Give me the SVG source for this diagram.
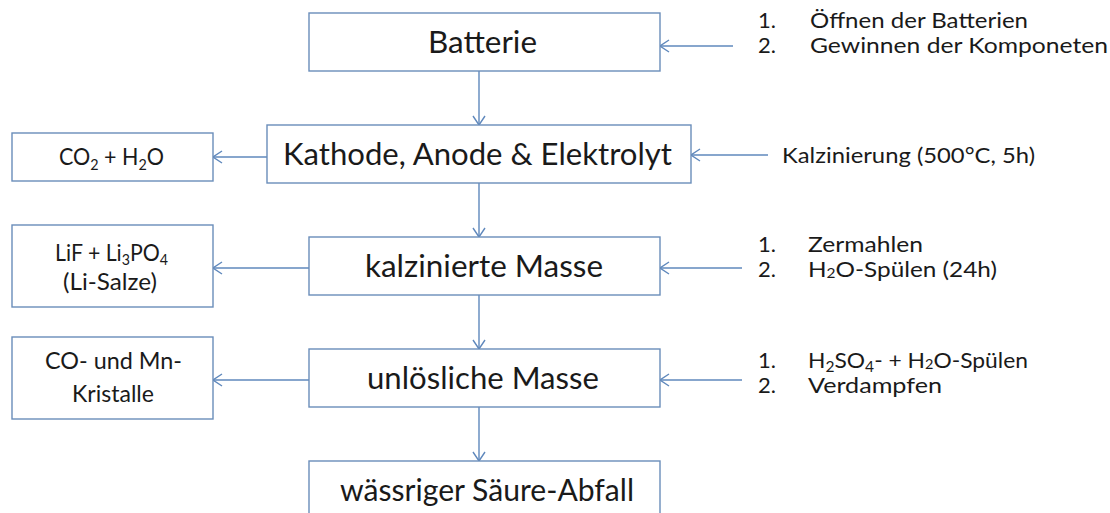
<svg xmlns="http://www.w3.org/2000/svg" width="1110" height="513" viewBox="0 0 1110 513">
  <style>
    .box { fill: #ffffff; stroke: #6A8DBA; stroke-width: 1.4; }
    .wire { fill: none; stroke: #5F88BC; stroke-width: 1.4; }
    .t { font-family: Lato, "Open Sans", "Liberation Sans", sans-serif; fill: #1a1a1a; }
    .big { font-size: 31px; }
    .mid { font-size: 24px; }
    .side { font-size: 22px; }
  </style>
  <defs>
    <marker id="head" viewBox="0 -7 12 14" markerWidth="12" markerHeight="14" refX="11" refY="0" orient="auto" markerUnits="userSpaceOnUse">
      <path d="M2,-6 L11,0 L2,6" fill="none" stroke="#5F88BC" stroke-width="1.4"/>
    </marker>
  </defs>
  <rect width="1110" height="513" fill="#ffffff"/>

  <!-- connectors -->
  <g id="connectors">
    <line class="wire" x1="479" y1="71" x2="479" y2="125" marker-end="url(#head)"/>
    <line class="wire" x1="479" y1="183" x2="479" y2="237" marker-end="url(#head)"/>
    <line class="wire" x1="479" y1="295" x2="479" y2="349" marker-end="url(#head)"/>
    <line class="wire" x1="479" y1="407" x2="479" y2="461" marker-end="url(#head)"/>
    <line class="wire" x1="267" y1="157" x2="213" y2="157" marker-end="url(#head)"/>
    <line class="wire" x1="309" y1="268" x2="213" y2="268" marker-end="url(#head)"/>
    <line class="wire" x1="309" y1="380" x2="213" y2="380" marker-end="url(#head)"/>
    <line class="wire" x1="733" y1="46" x2="660" y2="46" marker-end="url(#head)"/>
    <line class="wire" x1="768" y1="155" x2="691" y2="155" marker-end="url(#head)"/>
    <line class="wire" x1="742" y1="268" x2="660" y2="268" marker-end="url(#head)"/>
    <line class="wire" x1="742" y1="380" x2="660" y2="380" marker-end="url(#head)"/>
  </g>

  <!-- main process chain -->
  <g id="batterie">
    <rect class="box" x="309" y="13" width="351" height="58"/>
    <text class="t big" x="428" y="53" textLength="109" lengthAdjust="spacingAndGlyphs">Batterie</text>
  </g>
  <g id="kathode">
    <rect class="box" x="267" y="125" width="424" height="58"/>
    <text class="t big" x="283" y="165" textLength="389" lengthAdjust="spacingAndGlyphs">Kathode, Anode &amp; Elektrolyt</text>
  </g>
  <g id="kalzinierte-masse">
    <rect class="box" x="309" y="237" width="351" height="58"/>
    <text class="t big" x="365" y="277" textLength="238" lengthAdjust="spacingAndGlyphs">kalzinierte Masse</text>
  </g>
  <g id="unloesliche-masse">
    <rect class="box" x="309" y="349" width="351" height="58"/>
    <text class="t big" x="367" y="389" textLength="232" lengthAdjust="spacingAndGlyphs">unlösliche Masse</text>
  </g>
  <g id="saeure-abfall">
    <rect class="box" x="309" y="461" width="351" height="58"/>
    <text class="t big" x="340" y="501" textLength="294" lengthAdjust="spacingAndGlyphs">wässriger Säure-Abfall</text>
  </g>

  <!-- products -->
  <g id="co2-h2o">
    <rect class="box" x="12" y="133" width="201" height="48"/>
    <text class="t mid" x="59" y="165" textLength="105" lengthAdjust="spacingAndGlyphs">CO<tspan font-size="16" dy="5">2</tspan><tspan dy="-5"> + H</tspan><tspan font-size="16" dy="5">2</tspan><tspan dy="-5">O</tspan></text>
  </g>
  <g id="li-salze">
    <rect class="box" x="12" y="225" width="201" height="82"/>
    <text class="t mid" x="55" y="261" textLength="113" lengthAdjust="spacingAndGlyphs">LiF + Li<tspan font-size="16" dy="4">3</tspan><tspan dy="-4">PO</tspan><tspan font-size="16" dy="4">4</tspan></text>
    <text class="t mid" x="63" y="290" textLength="94" lengthAdjust="spacingAndGlyphs">(Li-Salze)</text>
  </g>
  <g id="co-mn-kristalle">
    <rect class="box" x="12" y="337" width="201" height="82"/>
    <text class="t mid" x="45" y="369" textLength="137" lengthAdjust="spacingAndGlyphs">CO- und Mn-</text>
    <text class="t mid" x="72" y="402" textLength="82" lengthAdjust="spacingAndGlyphs">Kristalle</text>
  </g>

  <!-- process steps -->
  <g id="schritte-batterie">
    <text class="t side" x="758" y="28">1.</text>
    <text class="t side" x="810" y="28" textLength="218" lengthAdjust="spacingAndGlyphs">Öffnen der Batterien</text>
    <text class="t side" x="758" y="53">2.</text>
    <text class="t side" x="810" y="53" textLength="298" lengthAdjust="spacingAndGlyphs">Gewinnen der Komponeten</text>
  </g>
  <g id="schritt-kalzinierung">
    <text class="t side" x="782" y="163" textLength="253" lengthAdjust="spacingAndGlyphs">Kalzinierung (500°C, 5h)</text>
  </g>
  <g id="schritte-mahlen">
    <text class="t side" x="758" y="252">1.</text>
    <text class="t side" x="808" y="252" textLength="115" lengthAdjust="spacingAndGlyphs">Zermahlen</text>
    <text class="t side" x="758" y="277">2.</text>
    <text class="t side" x="808" y="277" textLength="189" lengthAdjust="spacingAndGlyphs">H<tspan font-size="14" dy="1">2</tspan><tspan dy="-1">O-Spülen (24h)</tspan></text>
  </g>
  <g id="schritte-saeure">
    <text class="t side" x="758" y="368">1.</text>
    <text class="t side" x="808" y="368" textLength="220" lengthAdjust="spacingAndGlyphs">H<tspan font-size="15" dy="4">2</tspan><tspan dy="-4">SO</tspan><tspan font-size="15" dy="4">4</tspan><tspan dy="-4">- + H</tspan><tspan font-size="14" dy="1">2</tspan><tspan dy="-1">O-Spülen</tspan></text>
    <text class="t side" x="758" y="393">2.</text>
    <text class="t side" x="808" y="393" textLength="134" lengthAdjust="spacingAndGlyphs">Verdampfen</text>
  </g>
</svg>
